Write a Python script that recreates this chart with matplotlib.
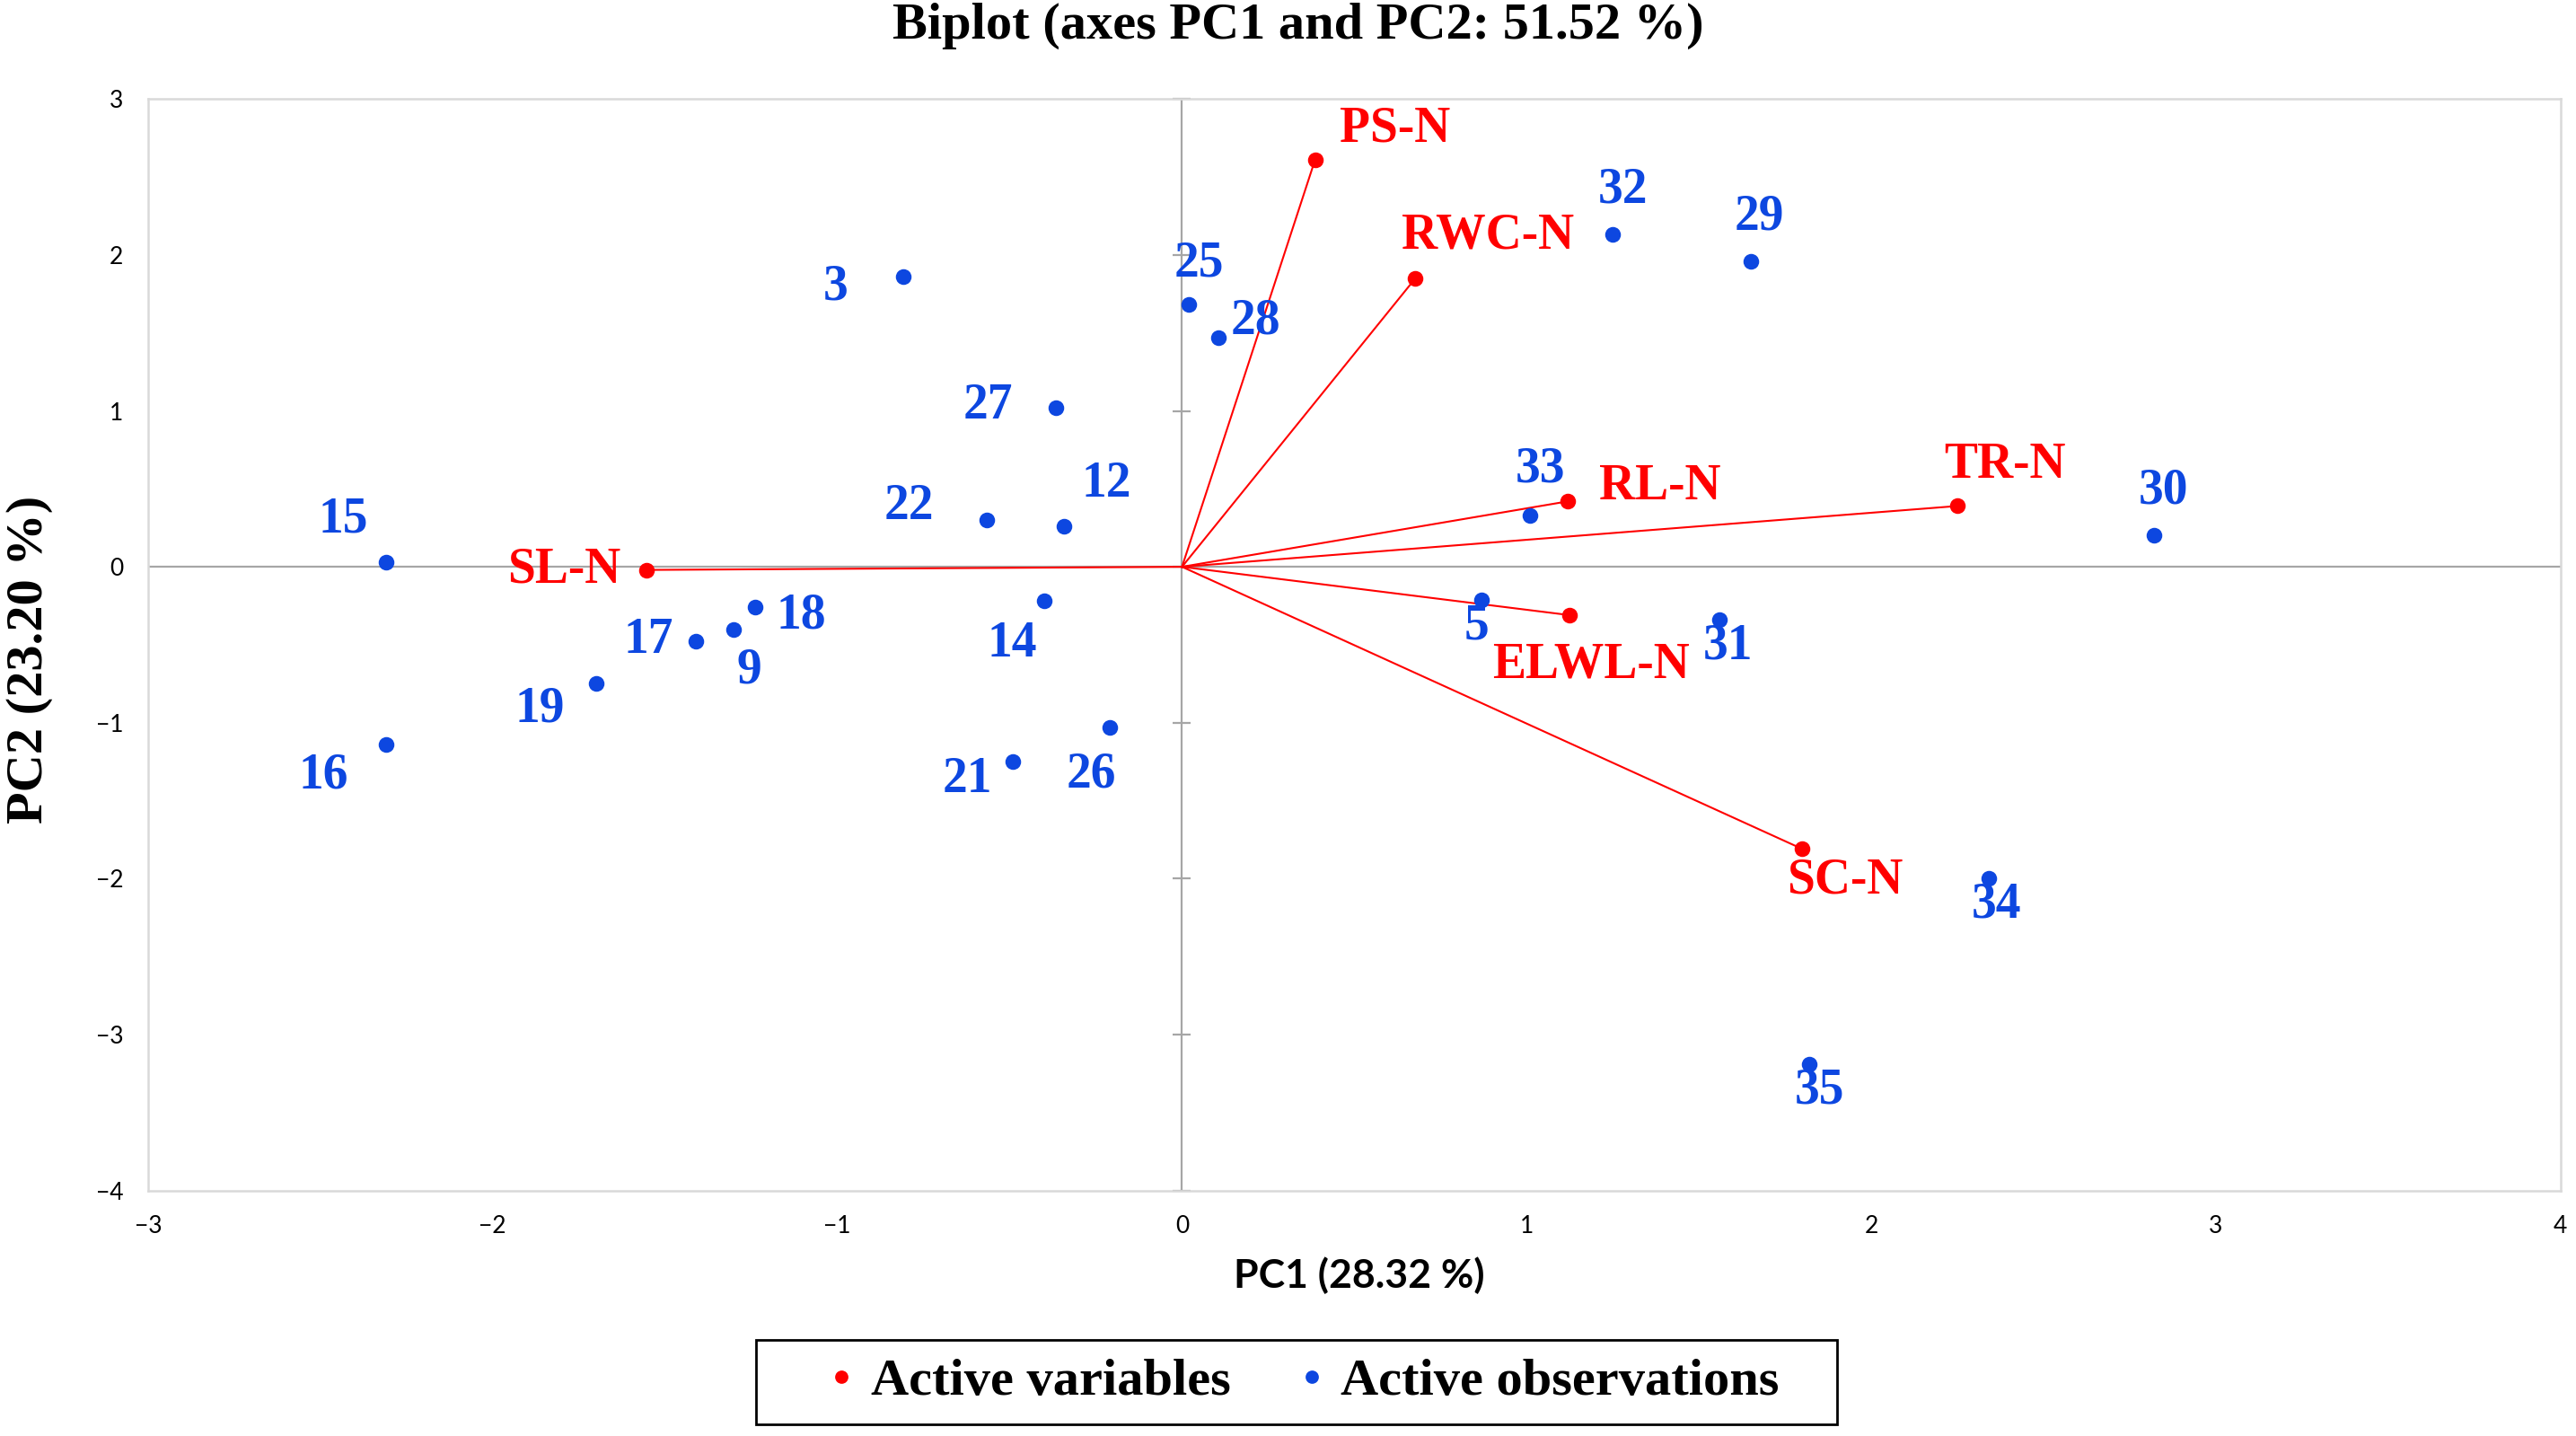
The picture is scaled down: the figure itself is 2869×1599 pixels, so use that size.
import matplotlib
matplotlib.use("Agg")
import matplotlib.pyplot as plt
from matplotlib.lines import Line2D
from matplotlib.patches import Rectangle

# active variables (loadings, scaled)
var_names = ['PS-N', 'RWC-N', 'RL-N', 'TR-N', 'ELWL-N', 'SC-N', 'SL-N']
var_pc1 = [0.386, 0.677, 1.12, 2.25, 1.125, 1.80, -1.555]
var_pc2 = [2.61, 1.85, 0.42, 0.39, -0.31, -1.81, -0.02]

# active observations
obs_names = ['3', '25', '28', '27', '22', '12', '15', '18', '17', '9', '19', '16',
             '14', '21', '26', '32', '29', '33', '30', '5', '31', '34', '35']
obs_pc1 = [-0.81, 0.02, 0.105, -0.367, -0.567, -0.343, -2.31, -1.24, -1.41, -1.30,
           -1.70, -2.31, -0.40, -0.49, -0.21, 1.25, 1.65, 1.01, 2.82, 0.87, 1.56,
           2.34, 1.82]
obs_pc2 = [1.86, 1.68, 1.47, 1.02, 0.30, 0.26, 0.03, -0.26, -0.48, -0.40, -0.75,
           -1.14, -0.22, -1.25, -1.03, 2.13, 1.96, 0.33, 0.20, -0.21, -0.34, -2.00,
           -3.19]

x_ticks = [-3, -2, -1, 0, 1, 2, 3, 4]
y_ticks = [-4, -3, -2, -1, 0, 1, 2, 3]

# label placement (offset points from the marker)
var_offsets = {'PS-N': (32, 12.5), 'RWC-N': (29, 17), 'RL-N': (37, 6),
               'TR-N': (19, 16.5), 'ELWL-N': (8.6, -20), 'SC-N': (17, -12.5),
               'SL-N': (-33, 0)}
obs_offsets = {'3': (-27, -4), '25': (4, 16.5), '28': (15, 6.6), '27': (-27, 0.7),
               '22': (-31, 5.3), '12': (17, 17), '15': (-17, 17), '18': (18.5, -3.3),
               '17': (-19, 0.7), '9': (6, -16.5), '19': (-22.4, -10), '16': (-25, -12.5),
               '14': (-13, -17), '21': (-18.5, -7.3), '26': (-7.3, -19), '32': (4, 17.8),
               '29': (3.3, 17.8), '33': (4, 18.5), '30': (4, 17.8), '5': (-2, -10.6),
               '31': (3.3, -10.6), '34': (3.3, -10.6), '35': (4, -10.6)}

RED = '#ff0000'
BLUE = '#0d47e0'
SERIF = ['Liberation Serif', 'DejaVu Serif']
SANS = ['Lato', 'DejaVu Sans']

fig = plt.figure(figsize=(14.345, 7.995), dpi=200)
ax = fig.add_axes([0.0575, 0.171, 0.9365, 0.760])

ax.set_xlim(x_ticks[0], x_ticks[-1])
ax.set_ylim(y_ticks[0], y_ticks[-1])
ax.set_xticks(x_ticks)
ax.set_yticks(y_ticks)
ax.tick_params(length=0, labelsize=9.5, pad=10, colors='black')
for lab in ax.get_xticklabels() + ax.get_yticklabels():
    lab.set_family(SANS)
for sp in ax.spines.values():
    sp.set_color('#d9d9d9')
    sp.set_linewidth(0.9)

# zero lines with small cross ticks on the vertical one
ax.axhline(0, color='#a6a6a6', lw=0.8, zorder=1)
ax.axvline(0, color='#a6a6a6', lw=0.8, zorder=1)
ax.plot([0] * len(y_ticks), y_ticks, ls='none', marker='_', markersize=7,
        mew=0.8, color='#a6a6a6', zorder=1, clip_on=False)

# variable vectors
for name, x, y in zip(var_names, var_pc1, var_pc2):
    ax.plot([0, x], [0, y], color=RED, lw=0.75, zorder=2)
ax.plot(var_pc1, var_pc2, ls='none', marker='o', markersize=5.3, color=RED, zorder=3)
for name, x, y in zip(var_names, var_pc1, var_pc2):
    ax.annotate(name, (x, y), xytext=var_offsets[name], textcoords='offset points',
                ha='center', va='center', color=RED, fontsize=20,
                fontweight='bold', family=SERIF, zorder=4)

# observations
ax.plot(obs_pc1, obs_pc2, ls='none', marker='o', markersize=5.3, color=BLUE, zorder=3)
for name, x, y in zip(obs_names, obs_pc1, obs_pc2):
    ax.annotate(name, (x, y), xytext=obs_offsets[name], textcoords='offset points',
                ha='center', va='center', color=BLUE, fontsize=20,
                fontweight='bold', family=SERIF, zorder=4)

ax.set_xlabel('PC1 (28.32 %)', fontsize=16, fontweight='bold', family=SANS)
ax.xaxis.set_label_coords(0.502, -0.078)
ax.xaxis.label.set_verticalalignment('center')

fig.text(0.0115, 0.541, 'PC2 (23.20 %)', rotation=90, ha='center', va='center',
         fontsize=21, fontweight='bold', family=SERIF)
fig.text(0.504, 0.982, 'Biplot (axes PC1 and PC2: 51.52 %)', ha='center', va='center',
         fontsize=21, fontweight='bold', family=SERIF)

# legend
handles = [Line2D([], [], ls='none', marker='o', markersize=4.3, color=RED),
           Line2D([], [], ls='none', marker='o', markersize=4.3, color=BLUE)]
fig.legend(handles, ['Active variables', 'Active observations'], loc='center',
           bbox_to_anchor=(0.5062, 0.0375), ncol=2, frameon=False, handlelength=0.5,
           handletextpad=0.3, columnspacing=1.31,
           prop={'family': SERIF, 'weight': 'bold', 'size': 21})
fig.patches.append(Rectangle((842 / 2869, 13 / 1599), 1204 / 2869, 94 / 1599,
                             transform=fig.transFigure, fill=False,
                             edgecolor='black', lw=1.0))

fig.savefig('out.png', dpi=200)
